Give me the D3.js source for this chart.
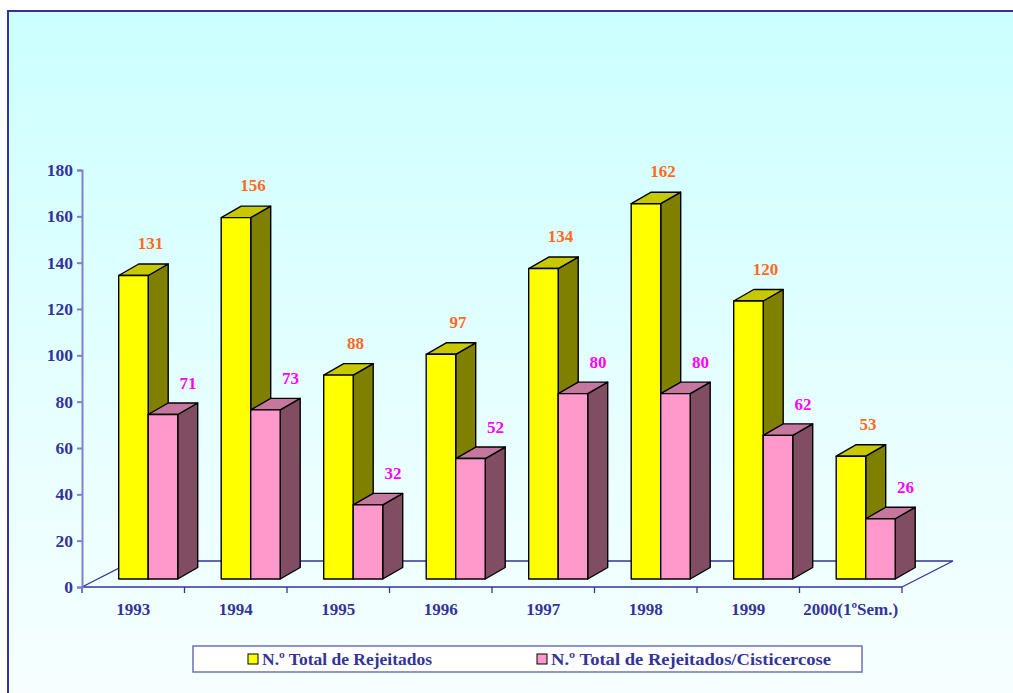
<!DOCTYPE html>
<html>
<head>
<meta charset="utf-8">
<script src="https://cdn.jsdelivr.net/npm/d3@7"></script>
<style>
  html, body { margin: 0; padding: 0; background: #ffffff; }
  svg { display: block; }
</style>
</head>
<body>
<svg id="chart" width="1013" height="693"></svg>
<script>
// Rejected carcasses per year: total vs. cysticercosis
const categories = ["1993", "1994", "1995", "1996", "1997", "1998", "1999", "2000(1ºSem.)"];
const totalRejeitados = [131, 156, 88, 97, 134, 162, 120, 53];
const cisticercose = [71, 73, 32, 52, 80, 80, 62, 26];
const seriesNames = ["N.º Total de Rejeitados", "N.º Total de Rejeitados/Cisticercose"];
const yTicks = [0, 20, 40, 60, 80, 100, 120, 140, 160, 180];

const svg = d3.select("#chart");
const W = 1013, H = 693;
const serif = "'Liberation Serif', 'Times New Roman', serif";

// background panel with soft cyan gradient
const defs = svg.append("defs");
const grad = defs.append("linearGradient").attr("id", "bg")
  .attr("x1", 0).attr("y1", 0).attr("x2", 0).attr("y2", 1);
grad.append("stop").attr("offset", "0%").attr("stop-color", "#ccffff");
grad.append("stop").attr("offset", "60%").attr("stop-color", "#e8ffff");
grad.append("stop").attr("offset", "100%").attr("stop-color", "#f8ffff");

svg.append("rect").attr("x", 8).attr("y", 11).attr("width", W + 20).attr("height", H + 20)
  .attr("fill", "url(#bg)").attr("stroke", "#333399").attr("stroke-width", 2);

// scales
const x = d3.scaleBand().domain(categories).range([82, 902]).padding(0);
const xs = d3.scaleBand().domain(seriesNames).range([21, 80]).padding(0);
const y = d3.scaleLinear().domain([0, 180]).range([587, 170]);

// 3-D geometry of the floor and the bars
const floorDX = 51, floorDY = -26;           // floor depth
const barShiftDX = 15.7, barShiftDY = -8;    // bars sit inside the floor
const barDX = 20, barDY = -11.5;             // bar depth

const floorColor = "#3333a0";
const axisColor = "#8080d0";
const textColor = "#333399";

// floor outline
const y0 = y(0), xL = x.range()[0], xR = x.range()[1];
svg.append("path")
  .attr("d", `M${xL},${y0} L${xL + floorDX},${y0 + floorDY} L${xR + floorDX},${y0 + floorDY} L${xR},${y0}`)
  .attr("fill", "none").attr("stroke", floorColor).attr("stroke-width", 1.3);
svg.append("line").attr("x1", xL).attr("x2", xR).attr("y1", y0).attr("y2", y0)
  .attr("stroke", floorColor).attr("stroke-width", 1.5);

// category ticks
const bounds = categories.map(c => x(c)).concat([xR]);
svg.append("g").selectAll("line").data(bounds).join("line")
  .attr("x1", d => d).attr("x2", d => d).attr("y1", y0).attr("y2", y0 + 6)
  .attr("stroke", floorColor).attr("stroke-width", 1.3);

// category labels
svg.append("g").selectAll("text").data(categories).join("text")
  .attr("x", d => x(d) + x.bandwidth() / 2).attr("y", 615)
  .attr("text-anchor", "middle")
  .attr("font-family", serif)
  .attr("font-weight", "bold").attr("font-size", 17)
  .attr("fill", textColor).text(d => d);

// y axis
const yAxis = d3.axisLeft(y).tickValues(yTicks).tickSize(5).tickPadding(4);
const gy = svg.append("g").attr("transform", `translate(${xL},0)`).call(yAxis);
gy.select(".domain").attr("stroke", axisColor).attr("stroke-width", 2);
gy.selectAll(".tick line").attr("stroke", axisColor).attr("stroke-width", 2);
gy.selectAll(".tick text")
  .attr("font-family", serif)
  .attr("font-weight", "bold").attr("font-size", 17.5)
  .attr("fill", textColor);

// bars
const palette = [
  { front: "#ffff00", top: "#c8c800", side: "#808000", label: "#ff6a22", dxLabel: 17, gap: 15 },
  { front: "#ff99cc", top: "#c5779e", side: "#804d63", label: "#ff00ff", dxLabel: 25, gap: 14 }
];
const data = categories.map((c, i) => ({ cat: c, values: [totalRejeitados[i], cisticercose[i]] }));

const gBars = svg.append("g");
data.forEach(d => {
  d.values.forEach((v, s) => {
    const p = palette[s];
    const left = x(d.cat) + xs(seriesNames[s]) + barShiftDX;
    const right = left + xs.bandwidth();
    const bottom = y(0) + barShiftDY;
    const top = bottom - (y(0) - y(v));
    const g = gBars.append("g")
      .attr("stroke", "#000").attr("stroke-width", 1.4).attr("stroke-linejoin", "round");
    // side face
    g.append("path")
      .attr("d", `M${right},${bottom} L${right + barDX},${bottom + barDY} L${right + barDX},${top + barDY} L${right},${top} Z`)
      .attr("fill", p.side);
    // top face
    g.append("path")
      .attr("d", `M${left},${top} L${left + barDX},${top + barDY} L${right + barDX},${top + barDY} L${right},${top} Z`)
      .attr("fill", p.top);
    // front face
    g.append("rect")
      .attr("x", left).attr("y", top).attr("width", right - left).attr("height", bottom - top)
      .attr("fill", p.front);
    // value label
    gBars.append("text")
      .attr("x", (left + right) / 2 + p.dxLabel)
      .attr("y", top + barDY - p.gap)
      .attr("text-anchor", "middle")
      .attr("font-family", serif)
      .attr("font-weight", "bold").attr("font-size", 17)
      .attr("fill", p.label).text(v);
  });
});

// legend
const lg = svg.append("g");
lg.append("rect").attr("x", 193).attr("y", 646).attr("width", 669).attr("height", 26)
  .attr("fill", "#ffffff").attr("stroke", "#6f6fc0").attr("stroke-width", 1.5);
const legendX = [248, 537];
seriesNames.forEach((name, s) => {
  lg.append("rect").attr("x", legendX[s]).attr("y", 654).attr("width", 10).attr("height", 10)
    .attr("fill", palette[s].front).attr("stroke", "#000").attr("stroke-width", 1);
  lg.append("text").attr("x", legendX[s] + 14).attr("y", 665)
    .attr("font-family", serif)
    .attr("font-weight", "bold").attr("font-size", 17.5)
    .attr("textLength", s === 0 ? 170 : 280).attr("lengthAdjust", "spacingAndGlyphs")
    .attr("fill", textColor).text(name);
});
</script>
</body>
</html>
